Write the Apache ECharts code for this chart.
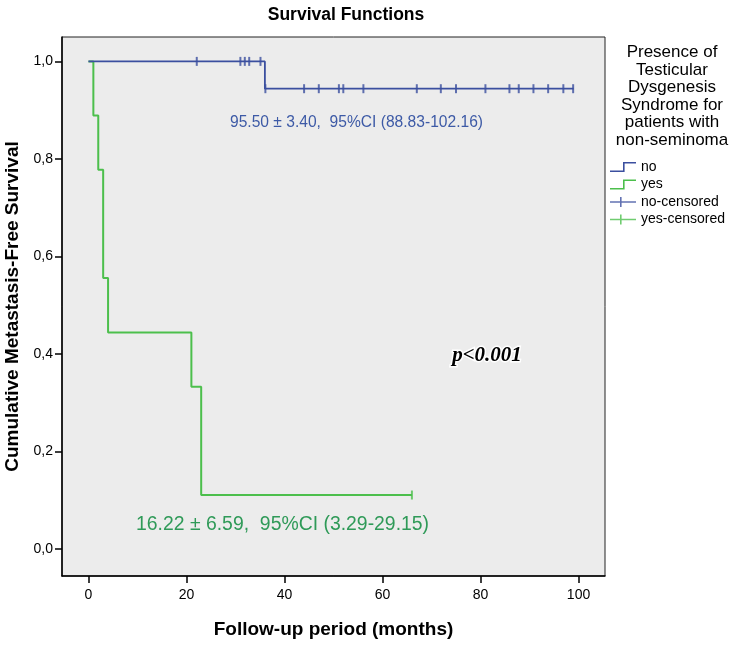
<!DOCTYPE html>
<html>
<head>
<meta charset="utf-8">
<script src="https://cdn.jsdelivr.net/npm/echarts@6/dist/echarts.min.js"></script>
<style>
html,body{margin:0;padding:0;background:#fff;}
#chart{width:730px;height:649px;}
</style>
</head>
<body>
<div id="chart"></div>
<script>
// ---- data ----
const noStepTimes = [0, 36, 99];
const noStepSurv  = [1.0, 0.944, 0.944];
const noCensorTimes = [22.1, 31.0, 31.9, 32.8, 35.1, 36.1, 44.0, 47.0, 51.1, 52.0, 56.1, 67.0, 71.9, 75.0, 81.0, 85.9, 87.8, 90.8, 93.8, 96.9, 98.9];
const noCensorSurv  = [1.0, 1.0, 1.0, 1.0, 1.0, 0.944, 0.944, 0.944, 0.944, 0.944, 0.944, 0.944, 0.944, 0.944, 0.944, 0.944, 0.944, 0.944, 0.944, 0.944, 0.944];

const yesStepTimes = [0, 1, 2, 3, 4, 21, 23, 66];
const yesStepSurv  = [1.0, 0.889, 0.778, 0.556, 0.444, 0.333, 0.111, 0.111];
const yesCensorTimes = [66];
const yesCensorSurv  = [0.111];

const xTicks = [0, 20, 40, 60, 80, 100];
const yTicks = [0, 0.2, 0.4, 0.6, 0.8, 1.0];

const seriesNames = ['no', 'yes', 'no-censored', 'yes-censored'];
const titleText = 'Survival Functions';
const legendTitleLines = ['Presence of', 'Testicular', 'Dysgenesis', 'Syndrome for', 'patients with', 'non-seminoma'];
const noAnnotation = '95.50 \u00b1 3.40,  95%CI (88.83-102.16)';
const yesAnnotation = '16.22 \u00b1 6.59,  95%CI (3.29-29.15)';
const pText = 'p<0.001';
const xName = 'Follow-up period (months)';
const yName = 'Cumulative Metastasis-Free Survival';

// ---- styling ----
const BLUE = '#3b4f9f';
const GREEN = '#4cbf4c';
const BLUE_TXT = '#3d5aa6';
const GREEN_TXT = '#2f9a58';
const SANS = '"Liberation Sans", Arial, sans-serif';

const zip = (a, b) => a.map((v, i) => [v, b[i]]);

const stepIcon = 'path://M0,8.4 L13,8.4 L13,0 L26,0 L26,1.6 L14.6,1.6 L14.6,10 L0,10 Z';
const crossIcon = 'path://M0,4.2 L10,4.2 L10,0 L11.6,0 L11.6,4.2 L26,4.2 L26,5.8 L11.6,5.8 L11.6,10 L10,10 L10,5.8 L0,5.8 Z';

const chart = echarts.init(document.getElementById('chart'), null, {renderer: 'canvas'});
const option = {
  animation: false,
  backgroundColor: '#ffffff',
  grid: {
    left: 62, right: 125, top: 37, bottom: 73,
    outerBoundsMode: 'none', containLabel: false,
    show: true, backgroundColor: '#ececec', borderColor: '#222', borderWidth: 1
  },
  xAxis: {
    type: 'value', min: -5.4, max: 105.4,
    splitLine: {show: false},
    axisLine: {show: true, onZero: false, lineStyle: {color: '#000', width: 1.5}},
    axisTick: {show: true, length: 7, customValues: xTicks, lineStyle: {color: '#000', width: 1.5}},
    axisLabel: {customValues: xTicks, color: '#000', fontSize: 14, fontFamily: SANS, margin: 12},
    name: xName, nameLocation: 'middle', nameGap: 44,
    nameTextStyle: {fontSize: 19, fontWeight: 'bold', color: '#000', fontFamily: SANS}
  },
  yAxis: {
    type: 'value', min: -0.055, max: 1.05,
    splitLine: {show: false},
    axisLine: {show: true, onZero: false, lineStyle: {color: '#000', width: 1.5}},
    axisTick: {show: true, length: 7, customValues: yTicks, lineStyle: {color: '#000', width: 1.5}},
    axisLabel: {customValues: yTicks, color: '#000', fontSize: 14, fontFamily: SANS, margin: 9,
      formatter: v => v.toFixed(1).replace('.', ',')},
    name: yName, nameLocation: 'middle', nameGap: 38, nameRotate: 90,
    nameTextStyle: {fontSize: 19, fontWeight: 'bold', color: '#000', fontFamily: SANS}
  },
  legend: {
    orient: 'vertical', left: 605, top: 155,
    itemWidth: 26, itemHeight: 10, itemGap: 3.5,
    textStyle: {fontSize: 14, color: '#000', fontFamily: SANS},
    itemStyle: {borderWidth: 0},
    data: [
      {name: seriesNames[0], icon: stepIcon},
      {name: seriesNames[1], icon: stepIcon},
      {name: seriesNames[2], icon: crossIcon},
      {name: seriesNames[3], icon: crossIcon}
    ]
  },
  series: [
    {
      name: seriesNames[0], type: 'line', step: 'end', showSymbol: false, symbol: 'none',
      data: zip(noStepTimes, noStepSurv), color: BLUE,
      itemStyle: {color: BLUE}, lineStyle: {color: BLUE, width: 1.8}, z: 3
    },
    {
      name: seriesNames[1], type: 'line', step: 'end', showSymbol: false, symbol: 'none',
      data: zip(yesStepTimes, yesStepSurv), color: GREEN,
      itemStyle: {color: GREEN}, lineStyle: {color: GREEN, width: 2}, z: 2
    },
    {
      name: seriesNames[2], type: 'scatter', symbol: 'rect', symbolSize: [2, 9],
      data: zip(noCensorTimes, noCensorSurv), color: BLUE, itemStyle: {color: BLUE}, z: 4
    },
    {
      name: seriesNames[3], type: 'scatter', symbol: 'rect', symbolSize: [2, 9],
      data: zip(yesCensorTimes, yesCensorSurv), color: GREEN, itemStyle: {color: GREEN}, z: 4
    }
  ],
  graphic: [
    {type: 'text', x: 346, y: 15,
      style: {text: titleText, font: 'bold 17.5px ' + SANS, fill: '#000', align: 'center', verticalAlign: 'middle'}},
    {type: 'text', x: 672, y: 44,
      style: {text: legendTitleLines.join('\n'), font: '17px ' + SANS, lineHeight: 17.5, fill: '#000', align: 'center', verticalAlign: 'top'}},
    {type: 'text', x: 230, y: 123, z: 10,
      style: {text: noAnnotation, font: '15.6px ' + SANS, fill: BLUE_TXT, align: 'left', verticalAlign: 'middle'}},
    {type: 'text', x: 136, y: 525, z: 10,
      style: {text: yesAnnotation, font: '19.4px ' + SANS, fill: GREEN_TXT, align: 'left', verticalAlign: 'middle'}},
    {type: 'text', x: 487, y: 356, z: 10,
      style: {text: pText, font: 'italic bold 21px "Liberation Serif", "Times New Roman", serif', fill: '#000',
        stroke: '#fff', lineWidth: 3, align: 'center', verticalAlign: 'middle'}}
  ]
};
chart.setOption(option);
</script>
</body>
</html>
